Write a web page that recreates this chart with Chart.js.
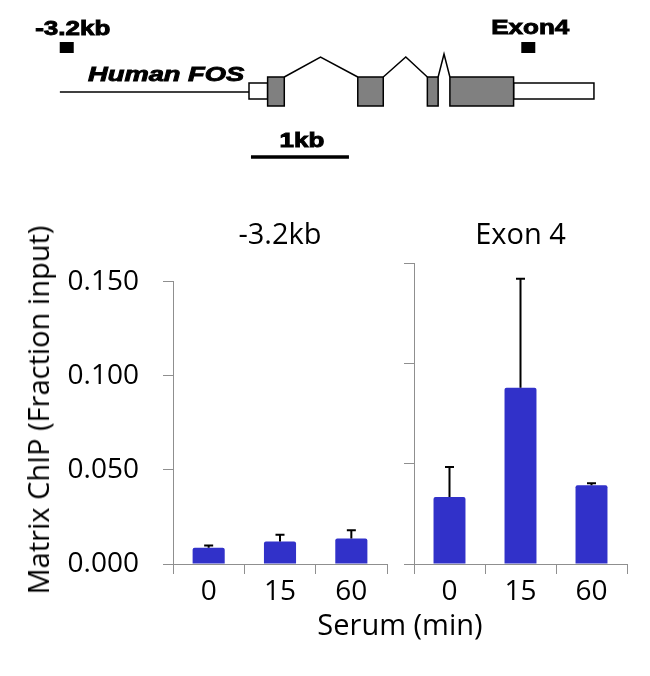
<!DOCTYPE html>
<html>
<head>
<meta charset="utf-8">
<script src="https://cdn.jsdelivr.net/npm/chart.js@4.4.1/dist/chart.umd.min.js"></script>
<style>
  body { margin: 0; background: #fff; }
  #page { position: relative; width: 650px; height: 676px; background: #fff; overflow: hidden; }
  canvas { position: absolute; }
  #geneCanvas { left: 0; top: 0; }
  #upstreamCanvas { left: 0; top: 200px; }
  #exon4Canvas { left: 400px; top: 200px; }
  #xTitle {
    position: absolute; left: 0; width: 800px; top: 607px; text-align: center;
    font-family: "Open Sans", sans-serif; font-size: 29px; line-height: 34px; color: #000;
  }
  #yTitle {
    position: absolute; left: 38px; top: 410px; white-space: nowrap;
    transform: translate(-50%, -50%) rotate(-90deg);
    font-family: "Open Sans", sans-serif; font-size: 29px; line-height: 34px; color: #000;
  }
</style>
</head>
<body>
<div id="page">
  <canvas id="geneCanvas" width="650" height="180"></canvas>
  <canvas id="upstreamCanvas" width="400" height="409"></canvas>
  <canvas id="exon4Canvas" width="250" height="409"></canvas>
  <div id="yTitle">Matrix ChIP (Fraction input)</div>
  <div id="xTitle">Serum (min)</div>
</div>
<script>
// serum time points (min)
const timePoints = ['0', '15', '60'];

// Matrix ChIP, fraction input, at the -3.2kb upstream site
const upstreamMeans = [0.0087, 0.0119, 0.0135];
const upstreamErrors = [0.0011, 0.0037, 0.0045];

// Matrix ChIP, fraction input, in exon 4
const exon4Means = [0.0335, 0.0881, 0.0393];
const exon4Errors = [0.0150, 0.0544, 0.0010];

// y axis ticks
const yTickStep = 0.05;
const yMax = 0.15;

// human FOS gene model, kb from the transcription start
const upstreamLineStart = -1.93;
const utrRegions = [[0, 0.19], [2.70, 3.52]];
const exonStarts = [0.19, 1.11, 1.82, 2.05];
const exonEnds = [0.36, 1.37, 1.93, 2.70];
const intronPeaks = [0.73, 1.60, 1.99];
const primerSites = [-1.86, 2.85];
const primerLabels = ['-3.2kb', 'Exon4'];
const scaleBar = [0.02, 1.02];
const scaleBarLabel = '1kb';
const geneName = 'Human FOS';

const FONT = '"Open Sans", sans-serif';
const BAR_BLUE = '#3131c9';
const AXIS_GREY = '#8f8f8f';

/**
 * Draws the upper error bar (line plus cap) on every bar
 **/
const errorBars = {
    id: 'errorBars',
    afterDatasetsDraw(chart) {
        const ctx = chart.ctx;
        const yScale = chart.scales.y;
        chart.data.datasets.forEach((ds, i) => {
            const meta = chart.getDatasetMeta(i);
            meta.data.forEach((bar, j) => {
                const top = yScale.getPixelForValue(ds.data[j] + ds.errors[j]);
                ctx.save();
                ctx.strokeStyle = '#000';
                ctx.lineWidth = 2;
                ctx.beginPath();
                ctx.moveTo(bar.x, bar.y);
                ctx.lineTo(bar.x, top);
                ctx.moveTo(bar.x - 4.5, top);
                ctx.lineTo(bar.x + 4.5, top);
                ctx.stroke();
                ctx.restore();
            });
        });
    }
};

/**
 * Draws the gene model using the x scale of the (empty) diagram chart
 **/
const geneModel = {
    id: 'geneModel',
    afterDraw(chart) {
        const ctx = chart.ctx;
        const x = v => chart.scales.x.getPixelForValue(v);
        const exonTop = 77, exonBottom = 106, utrTop = 83, utrBottom = 99, lineY = 92;
        const peakY = [57, 57, 54];

        // the figure's labels are heavy and widened, so stretch and outline them a bit
        function stretchedText(text, px, py, font, align) {
            ctx.save();
            ctx.font = font;
            ctx.fillStyle = '#000';
            ctx.strokeStyle = '#000';
            ctx.lineWidth = 0.9;
            ctx.textAlign = align;
            ctx.textBaseline = 'alphabetic';
            ctx.translate(px, py);
            ctx.scale(1.3, 1);
            ctx.fillText(text, 0, 0);
            ctx.strokeText(text, 0, 0);
            ctx.restore();
        }

        ctx.save();
        ctx.strokeStyle = '#000';
        ctx.lineWidth = 1.5;

        // upstream line
        ctx.beginPath();
        ctx.moveTo(x(upstreamLineStart), lineY);
        ctx.lineTo(x(utrRegions[0][0]), lineY);
        ctx.stroke();

        // introns
        for (let i = 0; i < intronPeaks.length; i++) {
            ctx.beginPath();
            ctx.moveTo(x(exonEnds[i]), exonTop);
            ctx.lineTo(x(intronPeaks[i]), peakY[i]);
            ctx.lineTo(x(exonStarts[i + 1]), exonTop);
            ctx.stroke();
        }

        // UTRs
        ctx.fillStyle = '#fff';
        utrRegions.forEach(r => {
            ctx.fillRect(x(r[0]), utrTop, x(r[1]) - x(r[0]), utrBottom - utrTop);
            ctx.strokeRect(x(r[0]), utrTop, x(r[1]) - x(r[0]), utrBottom - utrTop);
        });

        // exons
        ctx.fillStyle = '#808080';
        for (let i = 0; i < exonStarts.length; i++) {
            const w = x(exonEnds[i]) - x(exonStarts[i]);
            ctx.fillRect(x(exonStarts[i]), exonTop, w, exonBottom - exonTop);
            ctx.strokeRect(x(exonStarts[i]), exonTop, w, exonBottom - exonTop);
        }

        // primer sites
        ctx.fillStyle = '#000';
        primerSites.forEach(p => {
            ctx.fillRect(x(p) - 7, 42, 14, 11);
        });
        stretchedText(primerLabels[0], x(primerSites[0]) + 6, 35, 'bold 20px "Liberation Sans", Arial', 'center');
        stretchedText(primerLabels[1], x(primerSites[1]) + 2, 34, 'bold 20px "Liberation Sans", Arial', 'center');
        stretchedText(geneName, 88, 81, 'italic bold 21px "Liberation Sans", Arial', 'left');

        // scale bar
        ctx.lineWidth = 3.5;
        ctx.beginPath();
        ctx.moveTo(x(scaleBar[0]), 157);
        ctx.lineTo(x(scaleBar[1]), 157);
        ctx.stroke();
        stretchedText(scaleBarLabel, (x(scaleBar[0]) + x(scaleBar[1])) / 2 + 2, 147, 'bold 20px "Liberation Sans", Arial', 'center');
        ctx.restore();
    }
};

/**
 * Builds one bar panel; the left one carries the y tick labels
 **/
function panelConfig(title, means, errors, opts) {
    return {
        type: 'bar',
        data: {
            labels: timePoints,
            datasets: [{
                data: means,
                errors: errors,
                backgroundColor: BAR_BLUE,
                borderWidth: 0,
                borderRadius: 2,
                barPercentage: 0.45,
                categoryPercentage: 1
            }]
        },
        options: {
            responsive: false,
            animation: false,
            layout: { padding: { left: 0, right: opts.rightPad, top: 0, bottom: 0 } },
            plugins: {
                legend: { display: false },
                tooltip: { enabled: false },
                title: {
                    display: true,
                    text: title,
                    fullSize: false,
                    color: '#000',
                    font: { family: FONT, size: 29, weight: 'normal' },
                    padding: { top: 18, bottom: opts.titleGap }
                }
            },
            scales: {
                x: {
                    offset: true,
                    border: { color: AXIS_GREY, width: 1 },
                    grid: { offset: true, drawOnChartArea: false, drawTicks: true, tickLength: 10, color: AXIS_GREY },
                    ticks: { color: '#000', padding: 1, font: { family: FONT, size: 28 } },
                    afterFit(scale) { scale.height = 45; }
                },
                y: {
                    min: 0,
                    max: yMax,
                    border: { color: AXIS_GREY, width: 1 },
                    grid: { drawOnChartArea: false, drawTicks: true, tickLength: 10, color: AXIS_GREY },
                    ticks: {
                        display: opts.showLabels,
                        stepSize: yTickStep,
                        color: '#000',
                        padding: 24,
                        font: { family: FONT, size: 28 },
                        callback: v => v.toFixed(3)
                    },
                    afterFit(scale) { scale.width = opts.axisWidth; }
                }
            }
        },
        plugins: [errorBars]
    };
}

new Chart(document.getElementById('geneCanvas'), {
    type: 'scatter',
    data: { datasets: [] },
    options: {
        responsive: false,
        animation: false,
        layout: { padding: 0 },
        plugins: { legend: { display: false }, tooltip: { enabled: false } },
        scales: {
            x: { type: 'linear', min: -2.541, max: 4.092, display: false },
            y: { type: 'linear', min: 0, max: 180, reverse: true, display: false }
        }
    },
    plugins: [geneModel]
});

new Chart(document.getElementById('upstreamCanvas'),
    panelConfig('-3.2kb', upstreamMeans, upstreamErrors,
        { showLabels: true, axisWidth: 173, rightPad: 13, titleGap: 29 }));

new Chart(document.getElementById('exon4Canvas'),
    panelConfig('Exon 4', exon4Means, exon4Errors,
        { showLabels: false, axisWidth: 14, rightPad: 23, titleGap: 11 }));
</script>
</body>
</html>
